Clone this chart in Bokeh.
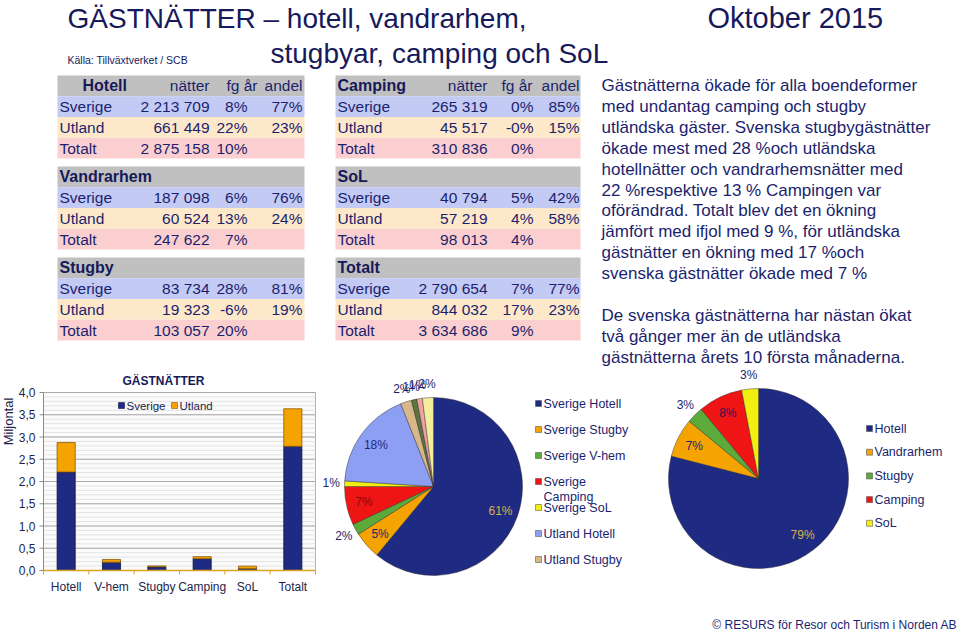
import math
from bokeh.plotting import figure
from bokeh.models import Range1d, ColumnDataSource
from bokeh.core.properties import value
from bokeh.embed import file_html
from bokeh.resources import INLINE

# ---------------- data ----------------
categories = ["Hotell", "Vandrarhem", "Stugby", "Camping", "SoL", "Totalt"]
bar_labels = ["Hotell", "V-hem", "Stugby", "Camping", "SoL", "Totalt"]
natter_sverige = [2213709, 187098, 83734, 265319, 40794, 2790654]
natter_utland = [661449, 60524, 19323, 45517, 57219, 844032]
natter_totalt = [2875158, 247622, 103057, 310836, 98013, 3634686]
fg_sverige = ["8%", "6%", "28%", "0%", "5%", "7%"]
fg_utland = ["22%", "13%", "-6%", "-0%", "4%", "17%"]
fg_totalt = ["10%", "7%", "20%", "0%", "4%", "9%"]
andel_sverige = ["77%", "76%", "81%", "85%", "42%", "77%"]
andel_utland = ["23%", "24%", "19%", "15%", "58%", "23%"]
row_names = ["Sverige", "Utland", "Totalt"]
col_heads = ["nätter", "fg år", "andel"]
series_names = ["Sverige", "Utland"]
y_ticks = [0.0, 0.5, 1.0, 1.5, 2.0, 2.5, 3.0, 3.5, 4.0]

pie1_labels = ["Sverige Hotell", "Sverige Stugby", "Sverige V-hem", "Sverige Camping",
               "Sverige SoL", "Utland Hotell", "Utland Stugby", "Utland V-hem",
               "Utland Camping", "Utland SoL"]
pie1_values = [61, 5, 2, 7, 1, 18, 2, 1, 1, 2]
pie1_legend_count = 7
pie2_labels = ["Hotell", "Vandrarhem", "Stugby", "Camping", "SoL"]
pie2_values = [79, 7, 3, 8, 3]

title_line1 = "GÄSTNÄTTER – hotell, vandrarhem,"
title_line2 = "stugbyar, camping och SoL"
title_date = "Oktober 2015"
source_text = "Källa: Tillväxtverket / SCB"
bar_title = "GÄSTNÄTTER"
bar_ylabel = "Miljontal"
footer = "© RESURS för Resor och Turism i Norden AB"
paragraph = [
    "Gästnätterna ökade för alla boendeformer",
    "med undantag camping och stugby",
    "utländska gäster. Svenska stugbygästnätter",
    "ökade mest med 28 %och utländska",
    "hotellnätter och vandrarhemsnätter med",
    "22 %respektive 13 % Campingen var",
    "oförändrad. Totalt blev det en ökning",
    "jämfört med ifjol med 9 %, för utländska",
    "gästnätter en ökning med 17 %och",
    "svenska gästnätter ökade med 7 %",
    "",
    "De svenska gästnätterna har nästan ökat",
    "två gånger mer än de utländska",
    "gästnätterna årets 10 första månaderna.",
]

# ---------------- styles ----------------
FONT = value("Liberation Sans")
NAVY_TXT = "#1b1f6e"
TITLE_C = "#16195a"
AX_TXT = "#1c1f4a"
ROW_BG = ["#c0c0c0", "#c3caf4", "#fde8c9", "#fbcfcf"]
SV_C = "#1f2a82"
UT_C = "#f5a300"
bar_colors = [SV_C, UT_C]
bar_edges = ["#0e1448", "#8a5a00"]
pie1_colors = ["#1f2a82", "#f5a300", "#5caa3a", "#f01515", "#f2ee10",
               "#8d9ff2", "#d8b888", "#5b7440", "#f2a0a0", "#f3ee9c"]
pie1_text_colors = ["#d9b24c", NAVY_TXT, NAVY_TXT, "#7a0d0d", NAVY_TXT,
                    "#1f2a82", NAVY_TXT, NAVY_TXT, NAVY_TXT, NAVY_TXT]
pie2_colors = ["#1f2a82", "#f5a300", "#5caa3a", "#f01515", "#f2ee10"]
pie2_text_colors = ["#d9b24c", NAVY_TXT, NAVY_TXT, "#3a1450", NAVY_TXT]

W, H = 960, 631
p = figure(width=W, height=H, x_range=Range1d(0, W), y_range=Range1d(-H, 0),
           output_backend="svg", toolbar_location=None, x_axis_type=None,
           y_axis_type=None, min_border=0, outline_line_color=None,
           background_fill_color="white", border_fill_color="white")
p.xgrid.visible = False
p.ygrid.visible = False


def put_text(xs, ys, texts, size, color, align="left", baseline="middle",
             style="normal", **kw):
    p.text(x=xs, y=[-y for y in ys], text=texts, text_font=FONT,
           text_font_size=value(size), text_color=color, text_align=align,
           text_baseline=baseline, text_font_style=style, **kw)


# ---------------- header ----------------
put_text([67], [17.5], [title_line1], "28px", TITLE_C)
put_text([270], [53], [title_line2], "28px", TITLE_C)
put_text([707], [17.5], [title_date], "29px", TITLE_C)
put_text([67], [59], [source_text], "10.5px", TITLE_C)

# ---------------- tables ----------------
tables = [
    dict(left=57, width=247, name_x=59, head_x=82, natter_r=209, fg_r=247,
         fg_head_r=257, andel_r=302),
    dict(left=335, width=245, name_x=337, head_x=337, natter_r=487, fg_r=533,
         fg_head_r=532, andel_r=579),
]
TABLE_TOP = 75
BLOCK_PITCH = 91
ROW_H = 20.75

rect_x, rect_y, rect_w, rect_c = [], [], [], []
lab_x, lab_y, lab_t = [], [], []
num_x, num_y, num_t = [], [], []
head_x, head_y, head_t = [], [], []
colh_x, colh_y, colh_t = [], [], []
for ti, tb in enumerate(tables):
    for b in range(3):
        k = ti * 3 + b
        y0 = TABLE_TOP + b * BLOCK_PITCH
        for r in range(4):
            yc = y0 + (r + 0.5) * ROW_H
            rect_x.append(tb["left"] + tb["width"] / 2)
            rect_y.append(-yc)
            rect_w.append(tb["width"])
            rect_c.append(ROW_BG[r])
        hy = y0 + 0.5 * ROW_H
        head_x.append(tb["head_x"] if b == 0 else tb["name_x"])
        head_y.append(hy)
        head_t.append(categories[k])
        if b == 0:
            colh_x += [tb["natter_r"], tb["fg_head_r"], tb["andel_r"]]
            colh_y += [hy, hy, hy]
            colh_t += col_heads
        nat = [natter_sverige[k], natter_utland[k], natter_totalt[k]]
        fg = [fg_sverige[k], fg_utland[k], fg_totalt[k]]
        an = [andel_sverige[k], andel_utland[k], ""]
        for r in range(3):
            yc = y0 + (r + 1.5) * ROW_H
            lab_x.append(tb["name_x"]); lab_y.append(yc); lab_t.append(row_names[r])
            num_x += [tb["natter_r"], tb["fg_r"], tb["andel_r"]]
            num_y += [yc, yc, yc]
            num_t += [f"{nat[r]:,}".replace(",", " "), fg[r], an[r]]

p.rect(x=rect_x, y=rect_y, width=rect_w, height=ROW_H, fill_color=rect_c,
       line_color=None)
put_text(head_x, head_y, head_t, "16px", TITLE_C, style="bold")
put_text(colh_x, colh_y, colh_t, "15.5px", NAVY_TXT, align="right")
put_text(lab_x, lab_y, lab_t, "15.5px", NAVY_TXT)
put_text(num_x, num_y, num_t, "15.5px", NAVY_TXT, align="right")

# ---------------- paragraph ----------------
PARA_X, PARA_Y, PARA_PITCH = 601, 85, 20.9
put_text([PARA_X] * len(paragraph),
         [PARA_Y + i * PARA_PITCH for i in range(len(paragraph))],
         paragraph, "17px", NAVY_TXT)

# ---------------- bar chart (own ranges mapped into its area) ----------------
BAR_L, BAR_R, BAR_T, BAR_B = 43, 315, 392, 570
YMAX = y_ticks[-1]
n = len(bar_labels)
ppx = (BAR_R - BAR_L) / n
ppy = (BAR_B - BAR_T) / YMAX
p.extra_x_ranges = {"bx": Range1d(-BAR_L / ppx, (W - BAR_L) / ppx)}
p.extra_y_ranges = {"by": Range1d(-(H - BAR_B) / ppy, BAR_B / ppy)}
B = dict(x_range_name="bx", y_range_name="by")

# plot area background
p.quad(left=[0], right=[n], bottom=[0], top=[YMAX], fill_color="#fbfbfb",
       line_color="#b0b0b0", line_width=1, **B)
minor = [k / 10 for k in range(int(YMAX * 10) + 1)]
p.segment(x0=0, x1=n, y0=minor, y1=minor, line_color="#e3e3e3", line_width=1, **B)
p.segment(x0=0, x1=n, y0=y_ticks, y1=y_ticks, line_color="#a9a9a9", line_width=1, **B)

src = ColumnDataSource(dict(x=[i + 0.5 for i in range(n)],
                            Sverige=[v / 1e6 for v in natter_sverige],
                            Utland=[v / 1e6 for v in natter_utland]))
p.vbar_stack(series_names, x="x", width=0.4, source=src, fill_color=bar_colors,
             line_color=bar_edges, line_width=0.8, **B)

# axes
p.segment(x0=0, x1=0, y0=0, y1=YMAX, line_color="#8a8a8a", line_width=1, **B)
p.segment(x0=-4 / ppx, x1=0, y0=y_ticks, y1=y_ticks, line_color="#8a8a8a",
          line_width=1, **B)
p.segment(x0=0, x1=n, y0=0, y1=0, line_color="#d9a521", line_width=1.5, **B)
p.segment(x0=list(range(n + 1)), x1=list(range(n + 1)), y0=0, y1=-4 / ppy,
          line_color="#d9a521", line_width=1, **B)
p.text(x=[0] * len(y_ticks), y=y_ticks,
       text=[f"{t:.1f}".replace(".", ",") for t in y_ticks], x_offset=-8,
       text_font=FONT, text_font_size=value("12px"), text_color=AX_TXT,
       text_align="right", text_baseline="middle", **B)
p.text(x=[i + 0.5 for i in range(n)], y=[0] * n, text=bar_labels, y_offset=9,
       text_font=FONT, text_font_size=value("12px"), text_color=AX_TXT,
       text_align="center", text_baseline="top", **B)

# legend, title, y label
LEG_X, LEG_Y, LEG_GAP = 121, 405, 53
p.rect(x=[LEG_X + i * LEG_GAP for i in range(2)], y=[-LEG_Y] * 2, width=6,
       height=6, fill_color=bar_colors, line_color=bar_edges, line_width=0.6)
put_text([LEG_X + 5 + i * LEG_GAP for i in range(2)], [LEG_Y] * 2, series_names,
         "11.5px", AX_TXT)
put_text([163], [380], [bar_title], "12px", TITLE_C, align="center", style="bold")
p.text(x=[8], y=[-421], text=[bar_ylabel], angle=math.pi / 2, text_font=FONT,
       text_font_size=value("13px"), text_color=AX_TXT, text_align="center",
       text_baseline="middle")


# ---------------- pies ----------------
def draw_pie(cx, cy, R, vals, colors, tcolors):
    total = float(sum(vals))
    cum = 0.0
    st, en, lx, ly, lt = [], [], [], [], []
    for v in vals:
        c0, c1 = cum / total, (cum + v) / total
        st.append(math.pi / 2 - 2 * math.pi * c0)
        en.append(math.pi / 2 - 2 * math.pi * c1)
        mid = math.pi / 2 - 2 * math.pi * (c0 + c1) / 2
        rr = R * (0.8 if v >= 5 else 1.15)
        lx.append(cx + rr * math.cos(mid))
        ly.append(-cy + rr * math.sin(mid))
        lt.append(f"{v}%")
        cum += v
    p.wedge(x=cx, y=-cy, radius=R, radius_units="screen", start_angle=st,
            end_angle=en, direction="clock", fill_color=colors,
            line_color="#2a2a2a", line_alpha=0.55, line_width=0.8)
    p.text(x=lx, y=ly, text=lt, text_font=FONT, text_font_size=value("12px"),
           text_color=tcolors, text_align="center", text_baseline="middle")


def draw_legend(x, y0, pitch, labels, colors, wrap=()):
    sx, sy, tx, ty, tt = [], [], [], [], []
    for i, lab in enumerate(labels):
        y = y0 + i * pitch
        sx.append(x); sy.append(-y)
        parts = lab.split(" ", 1) if lab in wrap else [lab]
        for j, part in enumerate(parts):
            tx.append(x + 5); ty.append(y + j * 15); tt.append(part)
    p.rect(x=sx, y=sy, width=6, height=6, fill_color=colors,
           line_color="#444444", line_width=0.5)
    put_text(tx, ty, tt, "12.5px", NAVY_TXT)


draw_pie(433, 486, 89, pie1_values, pie1_colors, pie1_text_colors)
draw_legend(538, 403, 26, pie1_labels[:pie1_legend_count],
            pie1_colors[:pie1_legend_count], wrap=("Sverige Camping",))
draw_pie(758, 478, 90, pie2_values, pie2_colors, pie2_text_colors)
draw_legend(869, 428, 23.7, pie2_labels, pie2_colors)
put_text([957], [624], [footer], "12px", NAVY_TXT, align="right")

open("out.html", "w").write(file_html(p, INLINE))
